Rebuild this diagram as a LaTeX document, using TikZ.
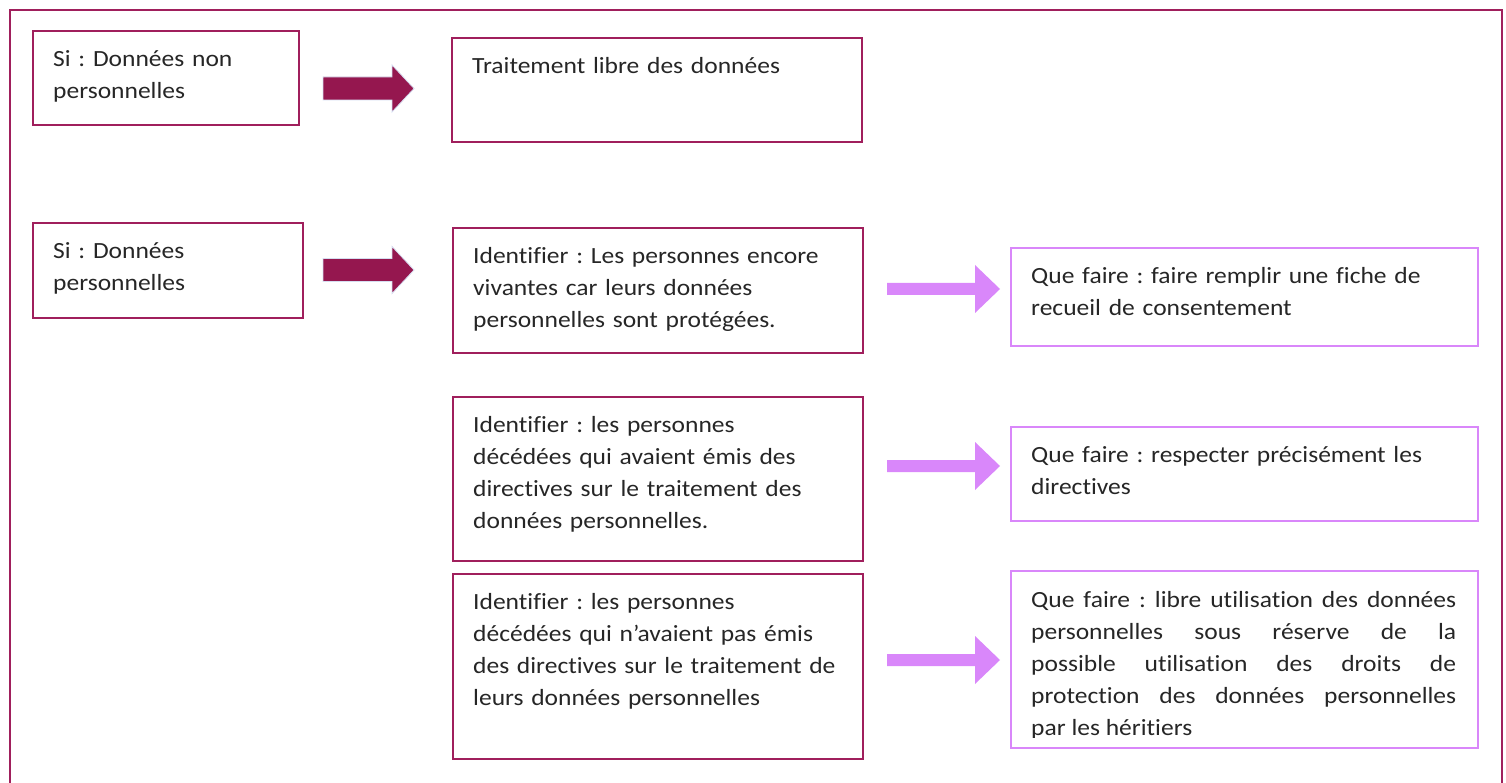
\documentclass[tikz,border=0pt]{standalone}
\usepackage{fontspec}
\setmainfont[FakeStretch=1.1,Ligatures=NoCommon]{Carlito}
\usetikzlibrary{calc}
\definecolor{plum}{HTML}{A01F5C}
\definecolor{plumfill}{HTML}{95174F}
\definecolor{lilac}{HTML}{D987FA}
\definecolor{edgeblue}{HTML}{D5DDF0}
\definecolor{ink}{HTML}{262626}
\newcommand\tstrut{\rule{0pt}{24pt}}
\tikzset{
  darkbox/.style={draw=plum, line width=1.8pt, inner sep=0pt, anchor=north west},
  lightbox/.style={draw=lilac, line width=1.8pt, inner sep=0pt, anchor=north west},
  txt/.style={anchor=north west, inner sep=0pt, text=ink, align=left,
    font=\fontsize{23.2}{32}\selectfont\frenchspacing},
  darkarrow/.style={fill=plumfill, draw=edgeblue, line width=0.8pt},
  lightarrow/.style={fill=lilac},
}
\begin{document}
\begin{tikzpicture}[x=1pt,y=-1pt]
\useasboundingbox (0,0) rectangle (1506,783);
% outer frame (open at the bottom)
\draw[plum, line width=1.6pt] (10,783) -- (10,10) -- (1502,10) -- (1502,783);

% boxes
\node[darkbox, minimum width=266pt, minimum height=94pt] (b1) at (32,30) {};
\node[darkbox, minimum width=410pt, minimum height=104pt] (b2) at (451,37) {};
\node[darkbox, minimum width=270pt, minimum height=95pt] (b3) at (32,222) {};
\node[darkbox, minimum width=410pt, minimum height=125pt] (b4) at (452,227) {};
\node[darkbox, minimum width=410pt, minimum height=164pt] (b5) at (452,396) {};
\node[darkbox, minimum width=410pt, minimum height=185pt] (b6) at (452,573) {};
\node[lightbox, minimum width=467pt, minimum height=98pt] (c1) at (1010,247) {};
\node[lightbox, minimum width=467pt, minimum height=94pt] (c2) at (1010,426) {};
\node[lightbox, minimum width=467pt, minimum height=177pt] (c3) at (1010,570) {};

% texts
\node[txt, text width=250pt] (t1) at ([shift={(21,12)}]b1.north west)
  {\tstrut Si : Données non\\personnelles};
\node[txt, text width=380pt] (t2) at ([shift={(21,12)}]b2.north west)
  {\tstrut Traitement libre des données};
\node[txt, text width=250pt] (t3) at ([shift={(21,12)}]b3.north west)
  {\tstrut Si : Données\\personnelles};
\node[txt, text width=385pt] (t4) at ([shift={(21,12)}]b4.north west)
  {\tstrut Identifier : Les personnes encore\\vivantes car leurs données\\personnelles sont protégées.};
\node[txt, text width=385pt] (t5) at ([shift={(21,12)}]b5.north west)
  {\tstrut Identifier : les personnes\\décédées qui avaient émis des\\directives sur le traitement des\\données personnelles.};
\node[txt, text width=385pt] (t6) at ([shift={(21,12)}]b6.north west)
  {\tstrut Identifier : les personnes\\décédées qui n’avaient pas émis\\des directives sur le traitement de\\leurs données personnelles};
\node[txt, text width=440pt] (u1) at ([shift={(21,12)}]c1.north west)
  {\tstrut Que faire : faire remplir une fiche de\\recueil de consentement};
\node[txt, text width=440pt] (u2) at ([shift={(21,12)}]c2.north west)
  {\tstrut Que faire : respecter précisément les\\directives};
\begin{scope}
\clip (1010,570) rectangle (1478,737);
\node[txt, align=justify, text width=425pt] (u3) at ([shift={(21,13)}]c3.north west)
  {\tstrut Que faire : libre utilisation des données\linebreak personnelles sous réserve de la\linebreak possible utilisation des droits de\linebreak protection des données personnelles\linebreak par les héritiers};
\end{scope}

% block arrows (dark)
\coordinate (d1) at (323,88.5);
\coordinate (d2) at (323,270);
\foreach \c in {d1,d2}{
  \draw[darkarrow] ($(\c)+(0,-11.5)$) -- ++(69,0) -- ++(0,-12) -- ($(\c)+(91,0)$)
    -- ($(\c)+(69,23.5)$) -- ++(0,-12) -- ($(\c)+(0,11.5)$) -- cycle;
}
% block arrows (light)
\coordinate (l1) at (887,289);
\coordinate (l2) at (887,466);
\coordinate (l3) at (887,660);
\foreach \c in {l1,l2,l3}{
  \fill[lightarrow] ($(\c)+(0,-6)$) -- ++(88,0) -- ++(0,-18) -- ($(\c)+(113,0)$)
    -- ($(\c)+(88,24)$) -- ++(0,-18) -- ($(\c)+(0,6)$) -- cycle;
}
\end{tikzpicture}
\end{document}
